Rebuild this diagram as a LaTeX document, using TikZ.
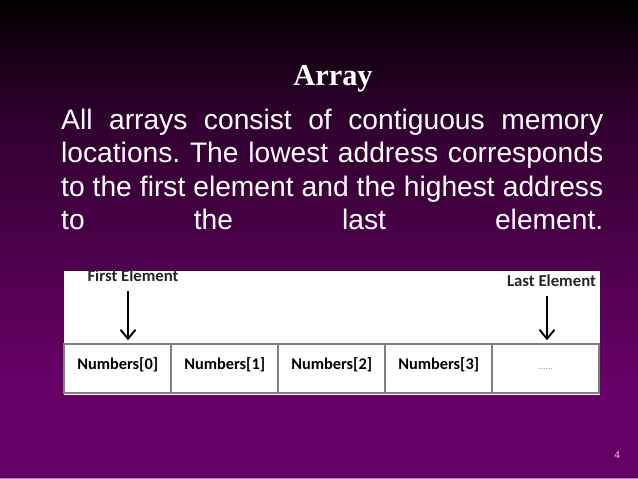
\documentclass[tikz,border=0pt]{standalone}
\usepackage{fontspec}
\setmainfont{Liberation Sans}
\newfontfamily\titlefont{Liberation Serif}
\newfontfamily\califont{Carlito}
\usetikzlibrary{arrows.meta}
\definecolor{bgpurple}{RGB}{102,0,102}
\definecolor{bgmid}{RGB}{48,0,46}
\definecolor{cellgray}{RGB}{128,128,128}
\tikzset{
  bodyline/.style={anchor=base west, inner sep=0, text=white, font=\fontsize{28.3}{33}\selectfont},
  cellbox/.style={draw=cellgray, line width=1.5bp, minimum width=107bp, anchor=base,
    text height=25.5bp, text depth=23.5bp, inner sep=0, font=\califont\bfseries\fontsize{16.4}{18}\selectfont},
  tag/.style={anchor=base, inner sep=0, font=\califont\bfseries\fontsize{16.8}{18}\selectfont, text=black!85},
  arr/.style={line width=1.9bp, -{Straight Barb[length=9bp,width=15bp,line width=1.9bp]}, shorten >=3bp}
}
\frenchspacing

\begin{document}
\begin{tikzpicture}[x=1bp, y=-1bp]
\useasboundingbox (0,0) rectangle (638,479);
% background
\shade[top color=black, bottom color=bgmid] (0,0) rectangle (638,120);
\shade[top color=bgmid, bottom color=bgpurple] (0,119.5) rectangle (638,380);
\fill[bgpurple] (0,379.5) rectangle (638,479);
\draw[bgpurple!45!white, line width=1.2bp] (0,478.4) -- (638,478.4);
% title and text
\node[anchor=base, inner sep=0, text=white, font=\titlefont\bfseries\fontsize{30.5}{34}\selectfont] (title) at (333,86) {Array};
\foreach \txt [count=\i] in {All arrays consist of contiguous memory,
  locations. The lowest address corresponds,
  to the first element and the highest address,
  to the last element.}
  \node[bodyline] (line\i) at (61,{129.3+33.4*(\i-1)}) {\makebox[542bp][s]{\txt}};
% array picture
\fill[white] (64,271) rectangle (600,395);
\foreach \lbl [count=\i from 0] in {Numbers[0],Numbers[1],Numbers[2],Numbers[3]}
  \node[cellbox] (cell\i) at ({117.7+107*\i},369.5) {\lbl};
\node[cellbox, font=\califont\fontsize{10}{12}\selectfont, text=black!40] (cell4) at (545.7,369.5) {......};
\node[tag] (first) at (133,281.7) {First Element};
\node[tag] (last) at (551.5,286) {Last Element};
\coordinate (fa) at (128,291);
\coordinate (la) at (547,295.5);
\draw[arr] (fa) -- (fa |- cell0.north);
\draw[arr] (la) -- (la |- cell4.north);
% page number
\node[anchor=base, inner sep=0, text=bgpurple!15!white, font=\titlefont\fontsize{11}{12}\selectfont] (page) at (617,458) {4};
\end{tikzpicture}
\end{document}
